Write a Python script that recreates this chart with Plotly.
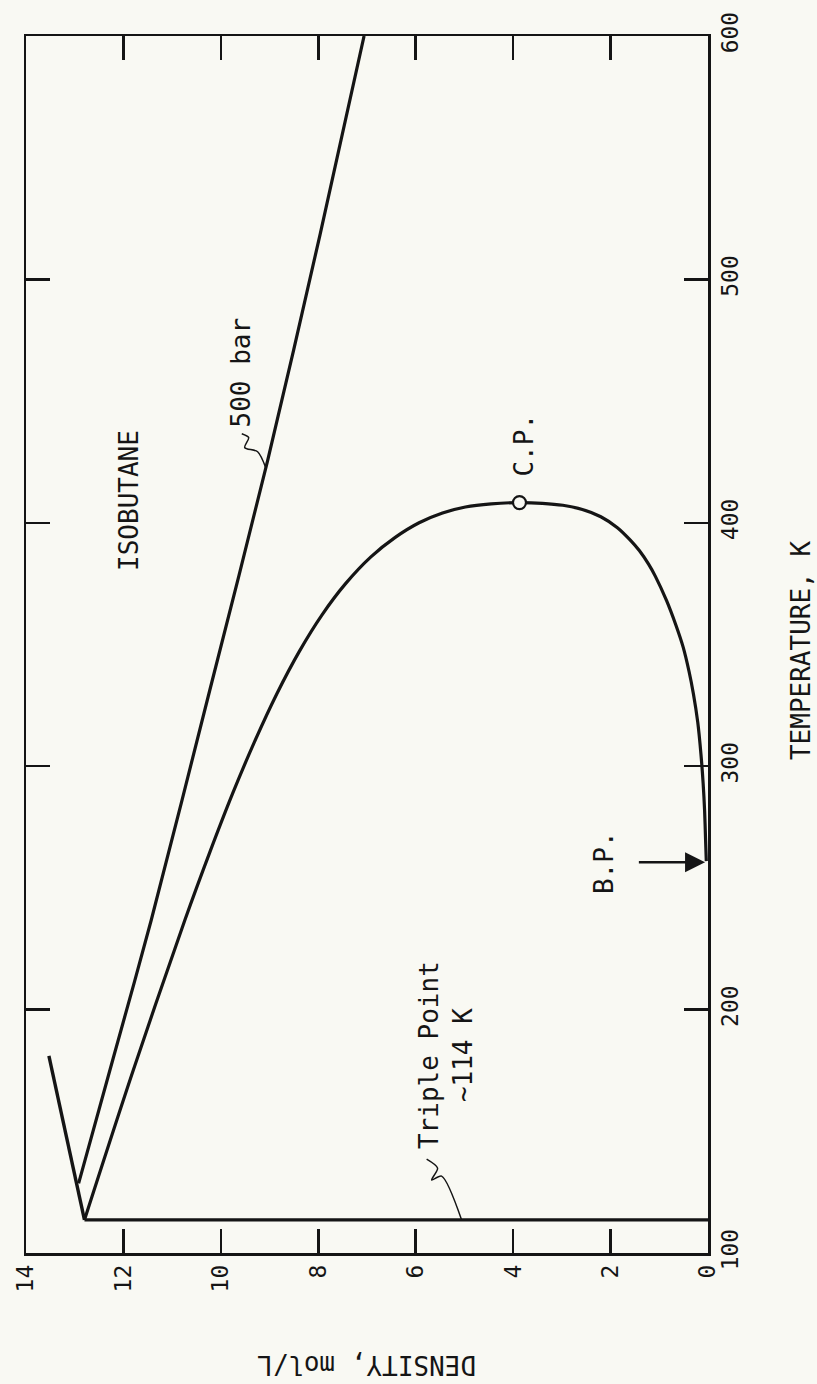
import plotly.graph_objects as go

# ---------------- data ----------------
# saturation dome: liquid branch up to C.P., then vapour branch down to B.P.
sat_density = [12.80, 11.80, 10.74, 10.22, 9.76, 9.31, 8.85, 8.38, 7.93, 7.44, 6.92, 6.42,
               5.93, 5.45, 4.98, 4.45, 3.87,
               3.40, 2.98, 2.58, 2.20, 1.86, 1.60, 1.41, 1.22, 1.08, 0.85, 0.66, 0.51, 0.39, 0.30, 0.21,
               0.145, 0.10, 0.07, 0.05, 0.035]
sat_temp = [113.6, 175.0, 236.7, 265.0, 288.7, 310.0, 329.8, 347.5, 362.0, 375.0, 386.0, 394.0,
            400.0, 404.0, 406.5, 407.8, 408.3,
            408.0, 407.2, 405.5, 402.5, 398.0, 393.0, 388.6, 383.0, 378.0, 368.0, 358.0, 348.9, 339.0, 329.8, 318.0,
            305.0, 293.0, 281.9, 270.0, 261.0]

# 500 bar isobar
iso500_density = [12.92, 12.21, 11.43, 10.23, 9.04, 7.96, 7.06]
iso500_temp = [128.6, 180.0, 236.7, 331.0, 425.5, 518.7, 600.0]

# melting line (solid-liquid)
melt_density = [12.80, 13.53]
melt_temp = [113.6, 181.0]

# triple-point line
triple_density = [12.80, 0.0]
triple_temp = [113.6, 113.6]

# critical point and normal boiling point
cp_density = [3.87]
cp_temp = [408.3]
bp_temp = 260.5

density_ticks = [0, 2, 4, 6, 8, 10, 12, 14]
temp_ticks = [100, 200, 300, 400, 500, 600]

# leader squiggles (decoration)
lead500_x = [9.571, 9.429, 9.510, 9.245, 9.08]
lead500_y = [436.6, 435.0, 430.9, 429.2, 422.7]
leadtp_x = [5.776, 5.551, 5.673, 5.469, 5.061]
leadtp_y = [138.6, 134.9, 130.0, 131.6, 113.8]

# ---------------- figure ----------------
INK = "#151515"
BG = "#f9f9f3"
FONT = "DejaVu Sans Mono"

fig = go.Figure()


def line(x, y, w=3.0, shape="linear", smoothing=None):
    fig.add_trace(go.Scatter(x=x, y=y, mode="lines", hoverinfo="skip",
                             line=dict(color=INK, width=w, shape=shape, smoothing=smoothing)))


line(sat_density, sat_temp, 3.2, "spline", 0.9)
line(iso500_density, iso500_temp, 3.2, "spline", 0.8)
line(melt_density, melt_temp, 3.4)
line(triple_density, triple_temp, 3.2)
line(lead500_x, lead500_y, 1.5, "spline", 0.8)
line(leadtp_x, leadtp_y, 1.5, "spline", 0.8)

fig.add_trace(go.Scatter(x=cp_density, y=cp_temp, mode="markers", hoverinfo="skip",
                         marker=dict(size=13, color=BG, line=dict(color=INK, width=2.2))))

ann_font = dict(family=FONT, size=26, color=INK)
texts = [
    ("ISOBUTANE", 11.90, 409.1),
    ("500 bar", 9.59, 461.7),
    ("C.P.", 3.78, 432.1),
    ("B.P.", 2.12, bp_temp),
    ("Triple Point<br>~114 K", 5.38, 181.3),
]
for t, x, y in texts:
    fig.add_annotation(x=x, y=y, xref="x", yref="y", text=t, showarrow=False, textangle=-90,
                       font=ann_font, xanchor="center", yanchor="middle", align="center")

# B.P. arrow
fig.add_annotation(x=0.06, y=bp_temp, ax=1.45, ay=bp_temp, xref="x", yref="y", axref="x", ayref="y",
                   text="", showarrow=True, arrowhead=2, arrowsize=1.6, arrowwidth=2.5, arrowcolor=INK)

# axis titles
fig.add_annotation(x=1.1356, y=0.495, xref="paper", yref="paper", text="TEMPERATURE, K", showarrow=False,
                   textangle=-90, xanchor="center", yanchor="middle",
                   font=dict(family=FONT, size=26, color=INK))
fig.add_annotation(x=0.5, y=-0.092, xref="paper", yref="paper", text="DENSITY, mol/L", showarrow=False,
                   textangle=180, xanchor="center", yanchor="middle",
                   font=dict(family=FONT, size=26, color=INK))

axis_common = dict(showgrid=False, zeroline=False, showline=True, linecolor=INK, linewidth=2.5,
                   mirror="ticks", ticks="inside", ticklen=24, tickwidth=2.5, tickcolor=INK,
                   tickfont=dict(family=FONT, size=23, color=INK))

fig.update_xaxes(range=[14, 0], tickvals=density_ticks, ticktext=[str(v) for v in density_ticks],
                 tickangle=-90, side="bottom", **axis_common)
fig.update_yaxes(range=[100, 600], tickvals=temp_ticks, ticktext=[str(v) for v in temp_ticks],
                 tickangle=-90, side="right", **axis_common)

fig.update_layout(width=817, height=1384, autosize=False,
                  margin=dict(l=22, r=109, t=35, b=131),
                  paper_bgcolor=BG, plot_bgcolor=BG, showlegend=False)

fig.write_html("out.html", config={"displayModeBar": False, "staticPlot": True},
               post_script="document.body.style.margin='0px';document.body.style.background='%s';" % BG)
